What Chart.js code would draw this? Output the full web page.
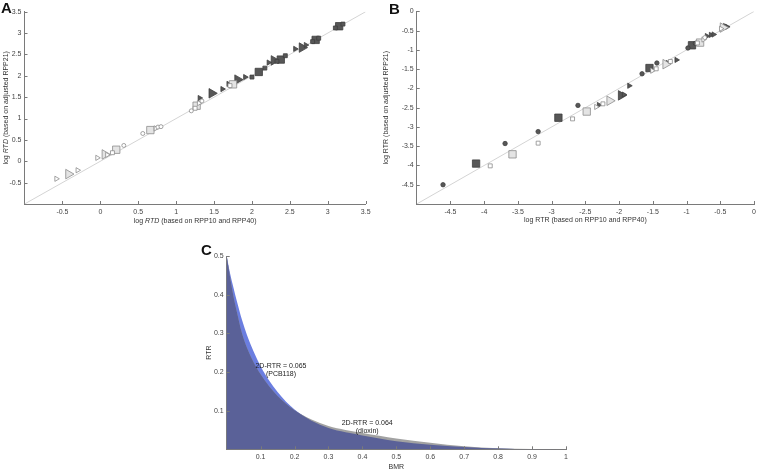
<!DOCTYPE html>
<html><head><meta charset="utf-8">
<script src="https://cdn.jsdelivr.net/npm/chart.js@4/dist/chart.umd.min.js"></script>
<style>
html,body{margin:0;padding:0;background:#fff;}
body{width:760px;height:471px;position:relative;overflow:hidden;font-family:"Liberation Sans",Arial,sans-serif;}
canvas{position:absolute;left:0;top:0;}
.lbl{position:absolute;font-weight:bold;font-size:15px;line-height:15px;color:#111;}
</style></head>
<body>
<canvas id="cA" width="760" height="471"></canvas>
<canvas id="cB" width="760" height="471"></canvas>
<canvas id="cC" width="760" height="471"></canvas>
<div class="lbl" style="left:1px;top:0px">A</div>
<div class="lbl" style="left:389px;top:1px">B</div>
<div class="lbl" style="left:201px;top:242px">C</div>
<script>
// ---------- Panel A data: log RTD ----------
const aXTicks = [-0.5,0,0.5,1,1.5,2,2.5,3,3.5];
const aYTicks = [-0.5,0,0.5,1,1.5,2,2.5,3,3.5];
const aIdentity = [[-1,-1],[3.5,3.5]];
const aLightTriSmall = [[-0.58,-0.41],[-0.30,-0.21],[-0.04,0.08],[0.09,0.15],[0.73,0.77],[1.30,1.36]];
const aLightTriBig   = [[-0.42,-0.30],[0.06,0.16]];
const aLightSqSmall  = [[0.16,0.20],[1.25,1.24],[1.71,1.77]];
const aLightSqBig    = [[0.21,0.27],[0.66,0.73],[1.27,1.30],[1.75,1.80]];
const aLightCircle   = [[0.31,0.37],[0.56,0.65],[0.76,0.80],[0.80,0.81],[1.20,1.18],[1.34,1.41]];
const aDarkTriSmall  = [[1.31,1.48],[1.61,1.69],[1.69,1.81],[1.91,1.97],[2.22,2.31],[2.57,2.63],[2.71,2.72]];
const aDarkTriBig    = [[1.47,1.59],[1.81,1.91],[2.29,2.36],[2.66,2.66]];
const aDarkSqSmall   = [[2.00,1.97],[2.17,2.18],[2.33,2.34],[2.44,2.47],[2.80,2.80],[2.88,2.88],[3.10,3.12],[3.20,3.21]];
const aDarkSqBig     = [[2.09,2.09],[2.38,2.38],[2.84,2.84],[3.15,3.16]];

// ---------- Panel B data: log RTR ----------
const bXTicks = [-4.5,-4,-3.5,-3,-2.5,-2,-1.5,-1,-0.5,0];
const bYTicks = [-4.5,-4,-3.5,-3,-2.5,-2,-1.5,-1,-0.5,0];
const bIdentity = [[-5,-5],[0,0]];
const bDarkCircle    = [[-4.61,-4.50],[-3.69,-3.43],[-3.20,-3.12],[-2.61,-2.44],[-1.66,-1.62],[-1.44,-1.34],[-0.98,-0.95],[-0.87,-0.83]];
const bDarkSqBig     = [[-4.12,-3.95],[-2.90,-2.76],[-1.55,-1.47],[-0.92,-0.88]];
const bLightSqSmall  = [[-3.91,-4.01],[-3.20,-3.42],[-2.69,-2.79],[-2.24,-2.40],[-1.45,-1.49],[-1.24,-1.30],[-0.84,-0.82]];
const bLightSqBig    = [[-3.58,-3.71],[-2.48,-2.60],[-0.80,-0.81]];
const bLightTriSmall = [[-2.34,-2.48],[-1.51,-1.54],[-0.75,-0.73],[-0.49,-0.45]];
const bLightTriBig   = [[-2.14,-2.32],[-1.31,-1.37],[-0.46,-0.42]];
const bDarkTriSmall  = [[-2.30,-2.43],[-1.93,-2.16],[-1.85,-1.93],[-1.28,-1.34],[-1.15,-1.26],[-0.70,-0.64],[-0.64,-0.61],[-0.60,-0.60],[-0.43,-0.38],[-0.40,-0.40]];
const bDarkTriBig    = [[-1.97,-2.18]];
const bLightCircle   = [[-0.73,-0.68]];

// ---------- Panel C data: RTR vs BMR ----------
const cXTicks = [0.1,0.2,0.3,0.4,0.5,0.6,0.7,0.8,0.9,1];
const cYTicks = [0.1,0.2,0.3,0.4,0.5];
const cBMR    = [0,0.01,0.02,0.03,0.045,0.06,0.08,0.1,0.125,0.15,0.175,0.2,0.25,0.3,0.35,0.4,0.45,0.5,0.6,0.7,0.8,0.9,1.0];
const cPCB118 = [0.5,0.455,0.418,0.383,0.335,0.295,0.252,0.215,0.178,0.148,0.123,0.103,0.074,0.055,0.044,0.036,0.028,0.021,0.012,0.006,0.002,0.0005,0.0001];
const cDioxin = [0.5,0.445,0.395,0.355,0.300,0.262,0.224,0.194,0.163,0.138,0.118,0.101,0.077,0.060,0.050,0.042,0.035,0.028,0.017,0.008,0.003,0.0008,0.0002];

// ---------- helpers ----------
const FAM = "'Liberation Sans', Arial, Helvetica, sans-serif";
Chart.defaults.font.family = FAM;
Chart.defaults.animation = false;

const pts = arr => arr.map(p => ({x:p[0], y:p[1]}));
const DARK = {bg:'#575757', bd:'#3f3f3f'};
const LIGHT = {bg:'#ffffff', bd:'#8c8c8c'};
const LIGHTBIG = {bg:'#e4e4e4', bd:'#8c8c8c'};

function markers(data, style, r, col, rot){
  return {type:'scatter', data:pts(data), pointStyle:style, pointRadius:r, pointRotation:rot||0,
          pointBackgroundColor:col.bg, pointBorderColor:col.bd, pointBorderWidth:0.8,
          pointHoverRadius:r, order:1};
}
function identity(data){
  return {type:'line', data:pts(data), borderColor:'#d4d4d4', borderWidth:1, pointRadius:0, order:10, fill:false};
}

const inTicks = {
  id:'inTicks',
  afterDatasetsDraw(chart){
    const {ctx, chartArea:a, scales:{x,y}} = chart;
    ctx.save(); ctx.strokeStyle='#7a7a7a'; ctx.lineWidth=1; ctx.beginPath();
    x.ticks.forEach(t=>{const px=Math.round(x.getPixelForValue(t.value))+0.5; ctx.moveTo(px,a.bottom); ctx.lineTo(px,a.bottom-3);});
    y.ticks.forEach(t=>{const py=Math.round(y.getPixelForValue(t.value))+0.5; ctx.moveTo(a.left,py); ctx.lineTo(a.left+3,py);});
    ctx.stroke(); ctx.restore();
  }
};

const axisTitles = {
  id:'axisTitles',
  afterDraw(chart, args, o){
    const {ctx, chartArea:a} = chart;
    const fs = st => (st||'') + ' 7px ' + FAM;
    const draw = (segs, cx, cy, rot) => {
      ctx.save(); ctx.translate(cx, cy); ctx.rotate(rot);
      ctx.fillStyle = '#333'; ctx.textBaseline = 'middle'; ctx.textAlign = 'left';
      let total = 0;
      segs.forEach(s=>{ctx.font = fs(s[1]); total += ctx.measureText(s[0]).width;});
      let xx = -total/2;
      segs.forEach(s=>{ctx.font = fs(s[1]); ctx.fillText(s[0], xx, 0); xx += ctx.measureText(s[0]).width;});
      ctx.restore();
    };
    draw(o.x, (a.left+a.right)/2, a.bottom + o.xOff, 0);
    draw(o.y, a.left - o.yOff, (a.top+a.bottom)/2 + (o.yShift||0), -Math.PI/2);
    if (o.notes) {
      ctx.save(); ctx.fillStyle='#222'; ctx.font = '7px ' + FAM; ctx.textAlign='center'; ctx.textBaseline='middle';
      o.notes.forEach(n => ctx.fillText(n.text, chart.scales.x.getPixelForValue(n.x), chart.scales.y.getPixelForValue(n.y)));
      ctx.restore();
    }
  }
};

function axis(min, max, ticks, size, isX){
  return {
    type:'linear', min, max,
    afterBuildTicks: s => { s.ticks = ticks.map(v => ({value:v})); },
    afterFit: s => { if (isX) s.height = size; else s.width = size; },
    grid:{display:false, drawTicks:false},
    border:{display:true, color:'#7a7a7a', width:1},
    ticks:{font:{size:7}, color:'#444', padding:isX?4:3, autoSkip:false, maxRotation:0, minRotation:0,
           callback: v => String(v)}
  };
}

function makeChart(id, datasets, sc, pad, titles){
  return new Chart(document.getElementById(id), {
    type:'scatter',
    data:{datasets},
    options:{
      responsive:false, maintainAspectRatio:false, devicePixelRatio:1,
      layout:{padding:pad, autoPadding:false},
      scales:sc,
      plugins:{legend:{display:false}, tooltip:{enabled:false}, axisTitles:titles}
    },
    plugins:[inTicks, axisTitles]
  });
}

// ---------- Panel A ----------
makeChart('cA', [
  identity(aIdentity),
  markers(aLightCircle,'circle',2,LIGHT),
  markers(aLightSqSmall,'rect',2.8,LIGHT),
  markers(aLightTriSmall,'triangle',3,LIGHT,90),
  markers(aLightSqBig,'rect',5.2,LIGHTBIG),
  markers(aLightTriBig,'triangle',5.5,LIGHTBIG,90),
  markers(aDarkSqSmall,'rect',2.8,DARK),
  markers(aDarkTriSmall,'triangle',3,DARK,90),
  markers(aDarkSqBig,'rect',5.2,DARK),
  markers(aDarkTriBig,'triangle',5.5,DARK,90)
], {
  x: axis(-1,3.5,aXTicks,36,true),
  y: axis(-1,3.5,aYTicks,24.5,false)
}, {left:0, right:394.3, top:11.7, bottom:231}, {
  x:[['log ',''],['RTD','italic'],[' (based on RPP10 and RPP40)','']],
  y:[['log ',''],['RTD','italic'],[' (based on adjusted RPP21)','']],
  xOff:17, yOff:18.5
});

// ---------- Panel B ----------
makeChart('cB', [
  identity(bIdentity),
  markers(bLightCircle,'circle',2,LIGHT),
  markers(bLightSqSmall,'rect',2.8,LIGHT),
  markers(bLightTriSmall,'triangle',3,LIGHT,90),
  markers(bLightSqBig,'rect',5.2,LIGHTBIG),
  markers(bLightTriBig,'triangle',5.5,LIGHTBIG,90),
  markers(bDarkCircle,'circle',2.2,DARK),
  markers(bDarkTriSmall,'triangle',3,DARK,90),
  markers(bDarkSqBig,'rect',5.2,DARK),
  markers(bDarkTriBig,'triangle',5.5,DARK,90)
], {
  x: axis(-5,0,bXTicks,36,true),
  y: axis(-5,0,bYTicks,36.7,false)
}, {left:380, right:4, top:11.4, bottom:231}, {
  x:[['log RTR (based on RPP10 and RPP40)','']],
  y:[['log RTR (based on adjusted RPP21)','']],
  xOff:16, yOff:30.5
});

// ---------- Panel C ----------
const cOverlap = cPCB118.map((v,i) => Math.min(v, cDioxin[i]));
const area = (ys, color, order) => ({
  type:'line', data: cBMR.map((x,i)=>({x, y:ys[i]})), fill:'origin', backgroundColor:color,
  borderWidth:0, borderColor:color, pointRadius:0, cubicInterpolationMode:'monotone', order
});
makeChart('cC', [
  area(cPCB118, '#6b7ee0', 3),
  area(cDioxin, '#a2a2a2', 2),
  area(cOverlap, '#5a6198', 1)
], {
  x: axis(0,1,cXTicks,21.7,true),
  y: axis(0,0.5,cYTicks,46.7,false)
}, {left:180, right:194, top:256, bottom:0}, {
  x:[['BMR','']],
  y:[['RTR','']],
  xOff:17.5, yOff:17.5,
  notes:[
    {x:0.16, y:0.216, text:'2D-RTR = 0.065'},
    {x:0.16, y:0.194, text:'(PCB118)'},
    {x:0.414, y:0.069, text:'2D-RTR = 0.064'},
    {x:0.414, y:0.047, text:'(dioxin)'}
  ]
});
</script>
</body></html>
